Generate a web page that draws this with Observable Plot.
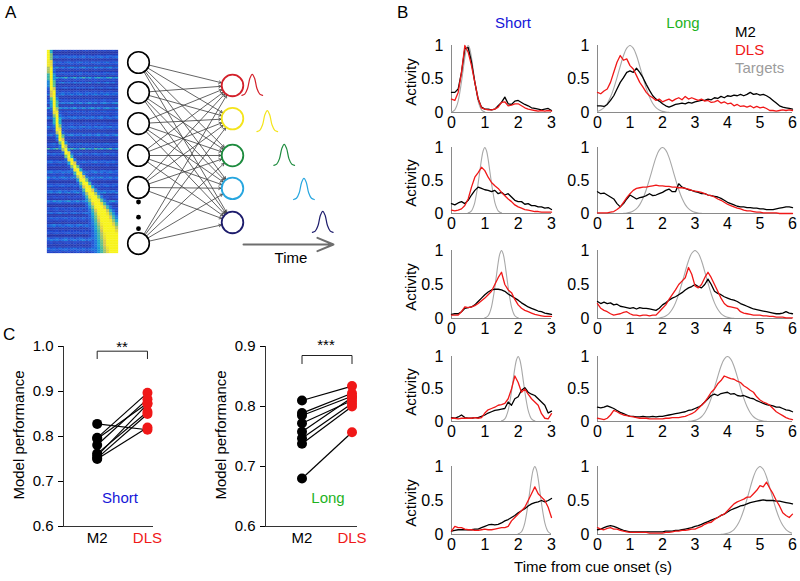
<!DOCTYPE html>
<html><head><meta charset="utf-8">
<script src="https://cdn.jsdelivr.net/npm/d3@7"></script>
<script src="https://cdn.jsdelivr.net/npm/@observablehq/plot@0.6"></script>
<style>
html,body{margin:0;padding:0;background:#fff;}
#fig{position:relative;width:800px;height:581px;overflow:hidden;font-family:"Liberation Sans",Arial,Helvetica,sans-serif;color:#000;}
#fig svg{max-width:none;overflow:visible;}
</style></head><body><div id="fig"></div>
<script>
// ---------------- DATA ----------------
// Panel B: time grids
const tShort = [0,0.1,0.2,0.3,0.4,0.5,0.6,0.7,0.8,0.9,1,1.1,1.2,1.3,1.4,1.5,1.6,1.7,1.8,1.9,2,2.1,2.2,2.3,2.4,2.5,2.6,2.7,2.8,2.9,3];
const tLong = [0,0.1,0.2,0.3,0.4,0.5,0.6,0.7,0.8,0.9,1,1.1,1.2,1.3,1.4,1.5,1.6,1.7,1.8,1.9,2,2.1,2.2,2.3,2.4,2.5,2.6,2.7,2.8,2.9,3,3.1,3.2,3.3,3.4,3.5,3.6,3.7,3.8,3.9,4,4.1,4.2,4.3,4.4,4.5,4.6,4.7,4.8,4.9,5,5.1,5.2,5.3,5.4,5.5,5.6,5.7,5.8,5.9,6];
const shortTicks = [0,1,2,3];
const longTicks = [0,1,2,3,4,5,6];
const activityTicks = [0,0.5,1];
// target peak centres and shapes
const shortCenters = [0.5,1,1.5,2,2.5];
const longCenters = [1,2,3,4,5];
const shortTOff = [-0.5,-0.45,-0.4,-0.35,-0.3,-0.25,-0.2,-0.15,-0.1,-0.05,0,0.05,0.1,0.15,0.2,0.25,0.3,0.35,0.4,0.45,0.5];
const shortTVal = [0.01,0.02,0.04,0.09,0.17,0.30,0.46,0.64,0.82,0.95,1,0.95,0.82,0.64,0.46,0.30,0.17,0.09,0.04,0.02,0.01];
const longTOff = [-1.2,-1.1,-1,-0.9,-0.8,-0.7,-0.6,-0.5,-0.4,-0.3,-0.2,-0.1,0,0.1,0.2,0.3,0.4,0.5,0.6,0.7,0.8,0.9,1,1.1,1.2];
const longTVal = [0.003,0.007,0.017,0.037,0.073,0.135,0.23,0.36,0.52,0.69,0.85,0.96,1,0.96,0.85,0.69,0.52,0.36,0.23,0.135,0.073,0.037,0.017,0.007,0.003];

const m2Short1 = [0.30,0.30,0.35,0.60,0.95,0.97,0.75,0.45,0.20,0.08,0.05,0.05,0.04,0.05,0.10,0.15,0.23,0.13,0.12,0.17,0.18,0.15,0.12,0.10,0.07,0.06,0.05,0.04,0.05,0.06,0.03];
const dlsShort1 = [0.20,0.18,0.30,0.60,1.00,0.90,0.70,0.45,0.20,0.07,0.05,0.04,0.04,0.05,0.08,0.15,0.16,0.10,0.11,0.13,0.13,0.10,0.07,0.05,0.04,0.03,0.02,0.03,0.02,0.03,0.02];
const m2Short2 = [0.15,0.13,0.16,0.18,0.15,0.20,0.28,0.35,0.40,0.38,0.36,0.35,0.33,0.35,0.30,0.32,0.28,0.30,0.25,0.20,0.18,0.18,0.14,0.15,0.12,0.12,0.10,0.10,0.08,0.09,0.06];
const dlsShort2 = [0.05,0.04,0.05,0.07,0.12,0.22,0.40,0.55,0.62,0.70,0.65,0.55,0.47,0.42,0.38,0.32,0.27,0.22,0.18,0.13,0.10,0.08,0.06,0.05,0.04,0.03,0.03,0.02,0.02,0.02,0.02];
const m2Short3 = [0.06,0.07,0.07,0.10,0.15,0.16,0.17,0.20,0.25,0.30,0.35,0.39,0.42,0.43,0.43,0.42,0.40,0.36,0.33,0.30,0.27,0.23,0.20,0.17,0.15,0.13,0.11,0.10,0.08,0.07,0.06];
const dlsShort3 = [0.05,0.05,0.05,0.10,0.17,0.16,0.17,0.19,0.22,0.26,0.30,0.35,0.40,0.50,0.60,0.68,0.50,0.42,0.38,0.28,0.20,0.15,0.12,0.10,0.08,0.06,0.05,0.04,0.03,0.03,0.03];
const m2Short4 = [0.06,0.05,0.07,0.10,0.06,0.05,0.05,0.06,0.06,0.08,0.10,0.13,0.15,0.17,0.18,0.19,0.20,0.30,0.25,0.35,0.38,0.48,0.52,0.45,0.42,0.40,0.35,0.30,0.25,0.13,0.16];
const dlsShort4 = [0.05,0.05,0.04,0.05,0.05,0.05,0.05,0.06,0.05,0.06,0.13,0.18,0.20,0.22,0.25,0.26,0.28,0.35,0.50,0.70,0.60,0.45,0.50,0.42,0.35,0.30,0.25,0.12,0.05,0.04,0.12];
const m2Short5 = [0.05,0.06,0.07,0.07,0.07,0.07,0.07,0.08,0.08,0.10,0.12,0.14,0.15,0.14,0.15,0.17,0.20,0.22,0.25,0.28,0.32,0.35,0.38,0.42,0.45,0.47,0.48,0.50,0.48,0.50,0.53];
const dlsShort5 = [0.05,0.12,0.10,0.10,0.08,0.07,0.07,0.06,0.06,0.07,0.08,0.07,0.07,0.08,0.09,0.10,0.10,0.12,0.20,0.25,0.30,0.35,0.40,0.50,0.60,0.70,0.60,0.55,0.50,0.40,0.25];

const m2Long1 = [0.10,0.10,0.09,0.12,0.18,0.25,0.35,0.45,0.52,0.60,0.62,0.60,0.66,0.60,0.52,0.42,0.33,0.25,0.20,0.17,0.13,0.10,0.08,0.10,0.12,0.13,0.14,0.13,0.15,0.14,0.16,0.17,0.18,0.18,0.20,0.19,0.22,0.21,0.24,0.22,0.25,0.24,0.26,0.25,0.27,0.25,0.27,0.30,0.27,0.28,0.26,0.27,0.25,0.22,0.18,0.14,0.10,0.08,0.07,0.06,0.05];
const dlsLong1 = [0.30,0.28,0.32,0.35,0.45,0.60,0.75,0.85,0.78,0.80,0.70,0.65,0.55,0.45,0.38,0.30,0.25,0.22,0.18,0.20,0.16,0.18,0.20,0.17,0.20,0.22,0.19,0.24,0.20,0.22,0.20,0.18,0.20,0.17,0.18,0.15,0.16,0.18,0.14,0.16,0.13,0.14,0.10,0.12,0.09,0.10,0.08,0.10,0.07,0.09,0.07,0.08,0.06,0.03,0.03,0.02,0.03,0.04,0.03,0.04,0.03];
const m2Long2 = [0.33,0.30,0.31,0.28,0.25,0.22,0.15,0.10,0.15,0.22,0.28,0.25,0.22,0.24,0.25,0.27,0.30,0.27,0.28,0.30,0.32,0.35,0.37,0.33,0.33,0.45,0.40,0.38,0.36,0.35,0.33,0.32,0.30,0.30,0.28,0.27,0.26,0.25,0.23,0.20,0.17,0.15,0.13,0.11,0.10,0.10,0.09,0.09,0.08,0.08,0.07,0.07,0.06,0.06,0.06,0.07,0.08,0.09,0.10,0.10,0.09];
const dlsLong2 = [0.01,0.01,0.01,0.01,0.02,0.03,0.06,0.10,0.17,0.24,0.30,0.35,0.38,0.39,0.40,0.40,0.41,0.42,0.43,0.42,0.42,0.41,0.41,0.40,0.40,0.39,0.39,0.38,0.37,0.35,0.34,0.33,0.32,0.30,0.28,0.27,0.25,0.22,0.20,0.17,0.14,0.12,0.10,0.08,0.07,0.05,0.04,0.04,0.03,0.02,0.02,0.01,0.01,0.01,0.01,0.01,0.00,0.00,0.00,0.00,0.00];
const m2Long3 = [0.25,0.22,0.24,0.22,0.23,0.20,0.21,0.18,0.17,0.16,0.15,0.16,0.14,0.16,0.15,0.15,0.14,0.13,0.12,0.15,0.20,0.23,0.27,0.30,0.32,0.35,0.38,0.42,0.45,0.47,0.50,0.47,0.45,0.50,0.58,0.50,0.40,0.37,0.35,0.32,0.30,0.28,0.27,0.25,0.22,0.20,0.18,0.16,0.14,0.13,0.12,0.11,0.10,0.09,0.08,0.07,0.07,0.08,0.10,0.08,0.07];
const dlsLong3 = [0.22,0.15,0.12,0.10,0.07,0.05,0.06,0.07,0.09,0.10,0.07,0.05,0.05,0.04,0.05,0.05,0.04,0.05,0.05,0.10,0.15,0.20,0.28,0.35,0.42,0.50,0.55,0.60,0.75,0.65,0.48,0.45,0.50,0.60,0.68,0.60,0.50,0.40,0.30,0.22,0.18,0.17,0.16,0.15,0.10,0.08,0.07,0.06,0.05,0.05,0.05,0.04,0.04,0.03,0.03,0.02,0.02,0.02,0.01,0.01,0.01];
const m2Long4 = [0.22,0.21,0.22,0.24,0.22,0.20,0.17,0.14,0.12,0.10,0.08,0.08,0.07,0.07,0.08,0.07,0.07,0.08,0.07,0.08,0.08,0.09,0.10,0.11,0.12,0.13,0.14,0.15,0.17,0.18,0.20,0.22,0.25,0.30,0.35,0.40,0.42,0.40,0.43,0.44,0.45,0.42,0.43,0.40,0.39,0.40,0.38,0.36,0.35,0.32,0.30,0.28,0.26,0.25,0.24,0.22,0.22,0.20,0.18,0.17,0.15];
const dlsLong4 = [0.05,0.04,0.03,0.05,0.10,0.17,0.15,0.12,0.10,0.09,0.08,0.07,0.06,0.05,0.05,0.05,0.04,0.04,0.04,0.04,0.04,0.05,0.05,0.06,0.06,0.06,0.07,0.08,0.10,0.12,0.15,0.20,0.25,0.30,0.37,0.45,0.50,0.58,0.63,0.70,0.68,0.66,0.65,0.62,0.60,0.55,0.52,0.48,0.45,0.38,0.33,0.30,0.28,0.25,0.20,0.15,0.12,0.09,0.06,0.04,0.03];
const m2Long5 = [0.07,0.08,0.10,0.12,0.13,0.12,0.10,0.08,0.06,0.05,0.04,0.04,0.04,0.04,0.04,0.04,0.04,0.04,0.04,0.04,0.04,0.05,0.05,0.05,0.06,0.06,0.07,0.08,0.09,0.10,0.12,0.13,0.15,0.17,0.19,0.21,0.23,0.25,0.28,0.30,0.33,0.36,0.38,0.40,0.42,0.43,0.45,0.47,0.48,0.49,0.50,0.51,0.50,0.50,0.50,0.49,0.49,0.48,0.47,0.46,0.45];
const dlsLong5 = [0.10,0.08,0.07,0.09,0.10,0.08,0.08,0.06,0.05,0.04,0.03,0.03,0.03,0.03,0.03,0.03,0.02,0.02,0.02,0.02,0.02,0.03,0.03,0.04,0.05,0.05,0.06,0.06,0.07,0.08,0.08,0.10,0.12,0.15,0.17,0.18,0.22,0.25,0.28,0.30,0.35,0.40,0.45,0.48,0.50,0.52,0.55,0.55,0.60,0.65,0.72,0.70,0.77,0.68,0.60,0.50,0.42,0.32,0.28,0.25,0.30];

// Panel C: model performance per session
const groups = ["M2","DLS"];
const shortM2  = [0.828,0.797,0.795,0.781,0.762,0.757,0.752,0.750];
const shortDLS = [0.815,0.897,0.874,0.883,0.855,0.872,0.850,0.820];
const longM2   = [0.810,0.789,0.785,0.772,0.758,0.747,0.738,0.680];
const longDLS  = [0.834,0.822,0.817,0.810,0.815,0.805,0.800,0.757];
const shortYTicks = [0.6,0.7,0.8,0.9,1.0];
const longYTicks = [0.6,0.7,0.8,0.9];

// Panel A: schematic network (layer 0 = input, layer 1 = output; slot = vertical node slot)
const inputSlots = [0,0.97,1.97,3.0,4.03,5.84];
const ellipsisSlots = [4.5,4.99,5.36];
const outputSlots = [0.74,1.81,3.0,4.06,5.16];
const outputColors = ["#d3202a","#f4e41c","#1d8b3e","#27a6df","#1d1c6c"];
const glyphPeakX = [1.21,1.37,1.55,1.76,1.96];
const glyphBaseSlot = [1.06,2.23,3.32,4.42,5.48];
const glyphDx = [-0.11,-0.08,-0.05,-0.025,0,0.025,0.05,0.08,0.11];
const glyphDy = [0,0.04,0.22,0.55,0.68,0.55,0.22,0.04,0];
const timeArrow = {x1:1.117, x2:2.074, slot:5.87};
// Panel A heatmap: sorted peak position per neuron (fraction of time), two sub-row background levels, column texture
const peakFrac = [0.00,0.01,0.01,0.02,0.02,0.03,0.03,0.04,0.04,0.05,0.05,0.06,0.07,0.07,0.08,0.09,0.09,0.10,0.11,0.12,0.13,0.13,0.14,0.15,0.16,0.18,0.19,0.21,0.23,0.25,0.28,0.30,0.33,0.36,0.39,0.42,0.45,0.48,0.51,0.54,0.57,0.60,0.63,0.66,0.69,0.72,0.75,0.78,0.80,0.82,0.84,0.86,0.88,0.90,0.92,0.93,0.95,0.96,0.98,1.00];
const rowLevel = [0.12,0.05,0.30,0.08,0.15,0.40,0.03,0.18,0.60,0.10,0.04,0.25,0.12,0.35,0.06,0.15,0.02,0.45,0.20,0.08,0.30,0.05,0.12,0.22,0.04,0.38,0.10,0.02,0.18,0.70,0.08,0.14,0.03,0.30,0.16,0.06,0.35,0.10,0.20,0.04,0.25,0.08,0.40,0.12,0.05,0.22,0.02,0.18,0.30,0.08,0.15,0.04,0.28,0.10,0.20,0.06,0.35,0.12,0.08,0.25];
const rowLevelB = [0.02,0.20,0.06,0.28,0.03,0.10,0.22,0.05,0.15,0.35,0.08,0.02,0.25,0.06,0.18,0.40,0.10,0.04,0.12,0.30,0.02,0.16,0.35,0.06,0.20,0.08,0.02,0.28,0.10,0.05,0.32,0.04,0.18,0.08,0.02,0.25,0.12,0.40,0.05,0.20,0.08,0.30,0.03,0.15,0.45,0.06,0.20,0.10,0.02,0.25,0.08,0.35,0.05,0.15,0.02,0.28,0.10,0.05,0.30,0.12];
const colTex = [0.8,1.1,0.6,0.9,1.2,0.7,1.0,0.5,0.9,1.1,0.8,0.6,1.0,1.2,0.7,0.9,0.6,1.1,0.8,1.0,0.7,0.9,1.2,0.6];
const heatStops = [0,0.1,0.22,0.35,0.5,0.68,0.85];
const heatColors = ["#2b2a8e","#2148d0","#1a72e0","#18a8d0","#5cc08a","#d8c450","#f8f41a"];

// ---------------- HELPERS ----------------
const FONT = '"Liberation Sans", Arial, Helvetica, sans-serif';
const RED = "#f01818";
const fig = document.getElementById("fig");
function put(node, left, top) {
  const d = document.createElement("div");
  d.style.cssText = `position:absolute;left:${left}px;top:${top}px;`;
  d.appendChild(node);
  fig.appendChild(d);
}
function label(str, x, baseline, opts = {}) {
  const size = opts.size || 15;
  const d = document.createElement("div");
  d.textContent = str;
  d.style.cssText = `position:absolute;left:${x}px;top:${baseline - 0.847 * size}px;font-size:${size}px;line-height:1;white-space:nowrap;color:${opts.color || "#000"};`;
  if (opts.anchor === "middle") d.style.transform = "translateX(-50%)";
  fig.appendChild(d);
}
function vlabel(str, cx, cy, size = 15) {
  const d = document.createElement("div");
  d.textContent = str;
  d.style.cssText = `position:absolute;left:${cx}px;top:${cy}px;font-size:${size}px;line-height:1;white-space:nowrap;transform:translate(-50%,-50%) rotate(-90deg);`;
  fig.appendChild(d);
}
const baseStyle = {fontSize: "15px", fontFamily: FONT, color: "black", background: "transparent", overflow: "visible"};

// ---------------- PANEL A ----------------
{
  // heatmap (each neuron drawn as two thin sub-rows)
  const nCols = colTex.length, nRows = peakFrac.length;
  const cells = [];
  peakFrac.forEach((p, r) => {
    const w = 0.7 + 3.2 * p * p * p;
    [rowLevel[r], rowLevelB[r]].forEach((lvl, half) => {
      for (let c = 0; c < nCols; c++) {
        const base = 0.03 + 0.55 * lvl * colTex[(c + 5 * r + 11 * half) % nCols];
        const dc = c - p * (nCols - 1);
        cells.push({y1: r + half / 2, y2: r + (half + 1) / 2, c, v: Math.max(base, Math.exp(-dc * dc / (2 * w * w)))});
      }
    });
  });
  const heat = Plot.plot({
    width: 71, height: 203, margin: 0,
    style: baseStyle,
    x: {axis: null, domain: [0, nCols], range: [0, 71]},
    y: {axis: null, domain: [0, nRows], range: [0, 203]},
    color: {type: "linear", domain: heatStops, range: heatColors, clamp: true},
    marks: [Plot.rect(cells, {x1: "c", x2: d => d.c + 1, y1: "y1", y2: "y2", fill: "v", stroke: "v", strokeWidth: 0.25})]
  });
  put(heat, 47, 50);

  const links = [];
  inputSlots.forEach(a => outputSlots.forEach(b => links.push({x1: 0, y1: a, x2: 1, y2: b})));
  const glyphs = [];
  glyphPeakX.forEach((gx, k) => glyphDx.forEach((dx, j) => glyphs.push({k, x: gx + dx, y: glyphBaseSlot[k] - glyphDy[j], color: outputColors[k]})));
  const net = Plot.plot({
    width: 345, height: 275, margin: 0,
    style: baseStyle,
    x: {domain: [-1.468, 2.202], range: [0, 345], axis: null},
    y: {domain: [-2, 6.871], range: [0, 275], axis: null},
    color: {type: "identity"},
    marks: [
      Plot.arrow(links, {x1: "x1", y1: "y1", x2: "x2", y2: "y2", insetStart: 11, insetEnd: 11.5, headLength: 5, stroke: "#3c3c3c", strokeWidth: 0.8}),
      Plot.dot(inputSlots.map(s => ({x: 0, y: s})), {x: "x", y: "y", r: 10.8, stroke: "black", strokeWidth: 1.6, fill: "white"}),
      Plot.dot(ellipsisSlots.map(s => ({x: 0, y: s})), {x: "x", y: "y", r: 2.4, fill: "black"}),
      Plot.dot(outputSlots.map((s, k) => ({x: 1, y: s, color: outputColors[k]})), {x: "x", y: "y", r: 10.8, stroke: "color", strokeWidth: 1.8, fill: "white"}),
      Plot.line(glyphs, {x: "x", y: "y", z: "k", stroke: "color", strokeWidth: 1.2, curve: "catmull-rom"}),
      Plot.arrow([timeArrow], {x1: "x1", x2: "x2", y1: "slot", y2: "slot", stroke: "#6e6e6e", strokeWidth: 2, headLength: 13, headAngle: 45})
    ]
  });
  put(net, 0, 0);
  label("A", 5, 18, {size: 17});
  label("Time", 291, 263, {anchor: "middle"});
}

// ---------------- PANEL B ----------------
const rowTops = [45, 147, 250, 356, 466];
const rowBottoms = [112, 213, 318, 421, 534];
function bPlot(times, m2, dls, center, tOff, tVal, xTicks, frameW, frameH) {
  const ML = 40, MR = 8, MT = 8, MB = 24;
  const target = tOff.map((o, k) => ({t: center + o, v: tVal[k]}));
  const m2d = times.map((t, k) => ({t, v: m2[k]}));
  const dlsd = times.map((t, k) => ({t, v: dls[k]}));
  return Plot.plot({
    width: ML + frameW + MR, height: MT + frameH + MB,
    marginLeft: ML, marginRight: MR, marginTop: MT, marginBottom: MB,
    style: {...baseStyle, fontSize: "16px"},
    x: {domain: [0, xTicks[xTicks.length - 1]], ticks: xTicks, tickSize: 0, tickPadding: 4, label: null, tickFormat: d => String(d)},
    y: {domain: [0, 1], ticks: activityTicks, tickSize: 0, tickPadding: 8, label: null, tickFormat: d => String(d)},
    marks: [
      Plot.ruleX([0], {stroke: "#8a8a8a", strokeWidth: 1}),
      Plot.ruleY([0], {stroke: "#8a8a8a", strokeWidth: 1}),
      Plot.line(target, {x: "t", y: "v", stroke: "#a8a8a8", strokeWidth: 1.1, curve: "catmull-rom", clip: true}),
      Plot.line(m2d, {x: "t", y: "v", stroke: "black", strokeWidth: 1.3}),
      Plot.line(dlsd, {x: "t", y: "v", stroke: RED, strokeWidth: 1.3})
    ]
  });
}
const m2S = [m2Short1, m2Short2, m2Short3, m2Short4, m2Short5];
const dlsS = [dlsShort1, dlsShort2, dlsShort3, dlsShort4, dlsShort5];
const m2L = [m2Long1, m2Long2, m2Long3, m2Long4, m2Long5];
const dlsL = [dlsLong1, dlsLong2, dlsLong3, dlsLong4, dlsLong5];
for (let i = 0; i < 5; i++) {
  const h = rowBottoms[i] - rowTops[i];
  put(bPlot(tShort, m2S[i], dlsS[i], shortCenters[i], shortTOff, shortTVal, shortTicks, 100, h), 451 - 40, rowTops[i] - 8);
  put(bPlot(tLong, m2L[i], dlsL[i], longCenters[i], longTOff, longTVal, longTicks, 195, h), 597 - 40, rowTops[i] - 8);
  vlabel("Activity", 410, (rowTops[i] + rowBottoms[i]) / 2 + 3);
}
label("B", 397, 18, {size: 17});
label("Short", 513, 28, {anchor: "middle", color: "#1616d8"});
label("Long", 683, 28, {anchor: "middle", color: "#1eb31e"});
label("M2", 735, 37);
label("DLS", 735, 55, {color: RED});
label("Targets", 735, 73, {color: "#9c9c9c"});
label("Time from cue onset (s)", 593, 572, {anchor: "middle"});

// ---------------- PANEL C ----------------
function cPlot(m2, dls, yTicks, xDomain, frameW, bracketLevel, bracketDrop) {
  const ML = 50, MR = 12, MT = 20, MB = 40;
  const pairs = m2.map((v, k) => ({a: v, b: dls[k]}));
  const yMin = yTicks[0], yMax = yTicks[yTicks.length - 1];
  const bracket = [{x: 0, y: bracketLevel - bracketDrop}, {x: 0, y: bracketLevel}, {x: 1, y: bracketLevel}, {x: 1, y: bracketLevel - bracketDrop}];
  return Plot.plot({
    width: ML + frameW + MR, height: MT + 180 + MB,
    marginLeft: ML, marginRight: MR, marginTop: MT, marginBottom: MB,
    style: baseStyle,
    x: {domain: xDomain, axis: null},
    y: {domain: [yMin, yMax], ticks: yTicks, tickSize: 5, tickPadding: 5, label: null, tickFormat: d3.format(".1f")},
    marks: [
      Plot.ruleX([xDomain[0]], {stroke: "#333", strokeWidth: 1}),
      Plot.ruleY([yMin], {stroke: "#333", strokeWidth: 1}),
      Plot.link(pairs, {x1: () => 0, y1: "a", x2: () => 1, y2: "b", stroke: "black", strokeWidth: 1.2}),
      Plot.dot(pairs, {x: () => 0, y: "a", r: 5, fill: "black"}),
      Plot.dot(pairs, {x: () => 1, y: "b", r: 5, fill: RED}),
      Plot.line(bracket, {x: "x", y: "y", stroke: "#222", strokeWidth: 1}),
      Plot.text([groups[0]], {x: () => 0, frameAnchor: "bottom", dy: 16, fill: "black", fontSize: 15}),
      Plot.text([groups[1]], {x: () => 1, frameAnchor: "bottom", dy: 16, fill: RED, fontSize: 15})
    ]
  });
}
put(cPlot(shortM2, shortDLS, shortYTicks, [-0.67, 1.12], 90, 0.9896, 0.0165), 63 - 50, 346 - 20);
put(cPlot(longM2, longDLS, longYTicks, [-0.73, 1.11], 92, 0.885, 0.0135), 265 - 50, 346 - 20);
label("C", 3, 340, {size: 17});
vlabel("Model performance", 18, 435);
vlabel("Model performance", 220, 435);
label("**", 122, 352, {anchor: "middle"});
label("***", 326, 350, {anchor: "middle"});
label("Short", 120, 503, {anchor: "middle", color: "#1616d8"});
label("Long", 328, 503, {anchor: "middle", color: "#1eb31e"});
</script></body></html>
